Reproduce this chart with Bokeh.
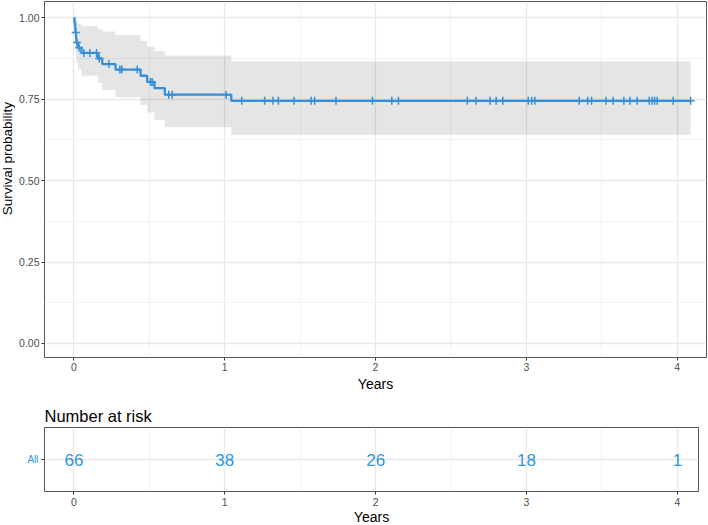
import numpy as np
from bokeh.plotting import figure
from bokeh.layouts import column, row
from bokeh.models import FixedTicker, Range1d, Title
from bokeh.embed import file_html
from bokeh.resources import INLINE
from bokeh.core.properties import value

# ---- data ----
step_times = [0.0, 0.004, 0.008, 0.010, 0.014, 0.016, 0.028, 0.050, 0.159, 0.188,
              0.276, 0.442, 0.486, 0.534, 0.603, 1.044]
step_surv = [1.0, 0.985, 0.970, 0.955, 0.939, 0.924, 0.908, 0.892, 0.875, 0.858,
             0.841, 0.822, 0.803, 0.784, 0.764, 0.745]
ci_upper = [1.0, 1.0, 1.0, 1.0, 0.999, 0.990, 0.982, 0.975, 0.965, 0.958,
            0.947, 0.929, 0.912, 0.898, 0.884, 0.866]
ci_lower = [1.0, 0.956, 0.930, 0.906, 0.883, 0.862, 0.843, 0.822, 0.800, 0.778,
            0.756, 0.732, 0.709, 0.686, 0.664, 0.641]
end_time = 4.09
censor_times = [0.012, 0.020, 0.034, 0.066, 0.106, 0.150, 0.168, 0.232, 0.305, 0.318,
                0.420, 0.508, 0.519, 0.629, 0.652, 1.009, 1.113, 1.265, 1.320, 1.356,
                1.460, 1.574, 1.596, 1.738, 1.980, 2.108, 2.152, 2.609, 2.667, 2.760,
                2.800, 2.844, 3.013, 3.036, 3.057, 3.351, 3.407, 3.433, 3.528, 3.576,
                3.647, 3.687, 3.735, 3.815, 3.834, 3.851, 3.868, 3.974, 4.090]
risk_times = [0, 1, 2, 3, 4]
risk_counts = [66, 38, 26, 18, 1]
risk_group = "All"
x_ticks = [0, 1, 2, 3, 4]
x_minor = [0.5, 1.5, 2.5, 3.5]
y_ticks = [0.0, 0.25, 0.5, 0.75, 1.0]
y_minor = [0.125, 0.375, 0.625, 0.875]
y_tick_labels = ["0.00", "0.25", "0.50", "0.75", "1.00"]
y_title = "Survival probability"

BLUE = "#358FD8"
TXT_BLUE = "#2E96DD"
FONT = "Liberation Sans"
TICK_COL = "#4d4d4d"

xs = step_times + [end_time]
ys = step_surv + [step_surv[-1]]
up = ci_upper + [ci_upper[-1]]
lo = ci_lower + [ci_lower[-1]]
idx = np.searchsorted(step_times, censor_times, side="right") - 1
censor_surv = [step_surv[i] for i in idx]

TOP_H = 393
TITLE_W = 15


def style(p, xt, xm):
    p.background_fill_color = "white"
    p.border_fill_color = "white"
    p.outline_line_color = "#555555"
    p.outline_line_width = 1
    for ax in (p.xaxis[0], p.yaxis[0]):
        ax.axis_line_color = None
        ax.major_tick_line_color = "#333333"
        ax.major_tick_in = 0
        ax.major_tick_out = 3
        ax.minor_tick_line_color = None
        ax.major_label_text_font = FONT
        ax.major_label_text_color = TICK_COL
        ax.major_label_text_font_size = "10.5px"
        ax.major_label_standoff = 3
        ax.axis_label_text_font = FONT
        ax.axis_label_text_font_style = "normal"
        ax.axis_label_text_color = "black"
        ax.axis_label_text_font_size = "14px"
    p.xaxis[0].ticker = FixedTicker(ticks=xt, minor_ticks=xm)
    for g in (p.xgrid[0], p.ygrid[0]):
        g.grid_line_color = "#e8e8e8"
        g.grid_line_width = 1.3
        g.minor_grid_line_color = "#efefef"
        g.minor_grid_line_width = 0.8


# ---- narrow strip holding the rotated y-axis title ----
pt = figure(width=TITLE_W, height=TOP_H, x_range=Range1d(0, TITLE_W), y_range=Range1d(TOP_H, 0),
            x_axis_type=None, y_axis_type=None, min_border=0,
            output_backend="svg", toolbar_location=None)
pt.outline_line_color = None
pt.background_fill_color = "white"
pt.border_fill_color = "white"
pt.xgrid.visible = False
pt.ygrid.visible = False
pt.text(x=[6.5], y=[174], text=[y_title], angle=np.pi / 2,
        text_align="center", text_baseline="middle", text_color="black",
        text_font=value(FONT), text_font_size="13.5px")

# ---- main survival plot ----
p1 = figure(frame_width=662, frame_height=356,
            x_range=Range1d(-0.195, 4.195), y_range=Range1d(-0.043, 1.05),
            min_border_left=44 - TITLE_W, min_border_right=2, min_border_top=1,
            min_border_bottom=36,
            output_backend="svg", toolbar_location=None)
style(p1, x_ticks, x_minor)
p1.yaxis[0].ticker = FixedTicker(ticks=y_ticks, minor_ticks=y_minor)
p1.yaxis[0].major_label_overrides = {t: l for t, l in zip(y_ticks, y_tick_labels)}
p1.yaxis[0].major_label_standoff = 1
p1.xaxis[0].axis_label = "Years"
p1.xaxis[0].axis_label_standoff = 2
p1.xaxis[0].major_label_standoff = 1

p1.varea_step(x=xs, y1=lo, y2=up, step_mode="after", fill_color="black", fill_alpha=0.1)
p1.step(x=xs, y=ys, mode="after", line_color=BLUE, line_width=2.3)
p1.scatter(x=censor_times, y=censor_surv, marker="cross", size=8,
           line_color=BLUE, line_width=1.5)

# ---- number at risk table ----
p2 = figure(frame_width=654, frame_height=64,
            x_range=Range1d(-0.195, 4.14), y_range=Range1d(0, 1),
            min_border_left=44, min_border_right=10, min_border_top=33, min_border_bottom=35,
            output_backend="svg", toolbar_location=None)
style(p2, x_ticks, x_minor)
p2.yaxis[0].ticker = FixedTicker(ticks=[0.5])
p2.yaxis[0].major_label_overrides = {0.5: risk_group}
p2.yaxis[0].major_label_text_color = TXT_BLUE
p2.yaxis[0].major_label_text_font_size = "10px"
p2.xaxis[0].axis_label = "Years"
p2.xaxis[0].axis_label_standoff = 0
p2.xaxis[0].major_label_standoff = 2
p2.title = Title(text="Number at risk", text_font=FONT, text_font_size="16.5px",
                 text_font_style="normal", text_color="black", align="left",
                 offset=0, standoff=6)

p2.text(x=risk_times, y=[0.5] * len(risk_times), text=[str(c) for c in risk_counts],
        text_align="center", text_baseline="middle", text_color=TXT_BLUE,
        text_font=value(FONT), text_font_size="17px")

layout = column(row(pt, p1, spacing=0), p2, spacing=0)
open("out.html", "w").write(file_html(layout, INLINE))
